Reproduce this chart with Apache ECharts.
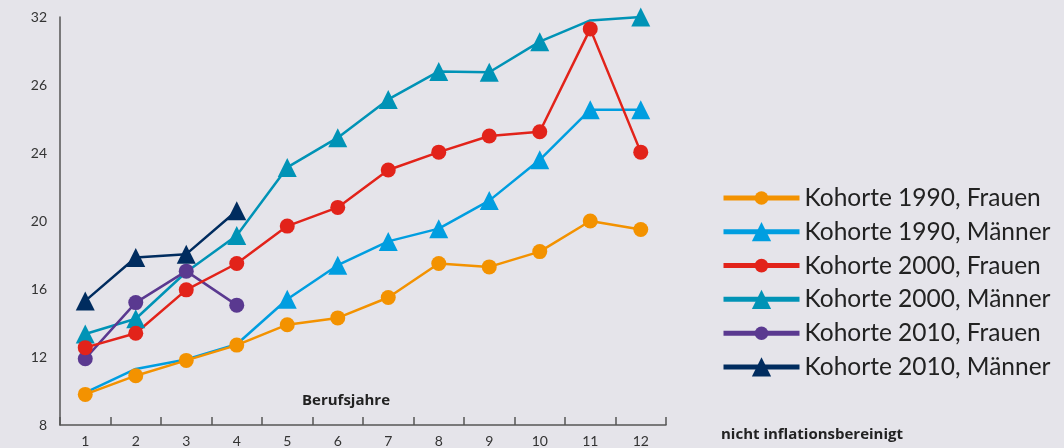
<!DOCTYPE html>
<html>
<head>
<meta charset="utf-8">
<script src="https://cdn.jsdelivr.net/npm/echarts@6/dist/echarts.min.js"></script>
<style>
html,body{margin:0;padding:0;background:#e5e4ea;}
#chart{width:1064px;height:448px;}
</style>
</head>
<body>
<div id="chart"></div>
<script>
const categories = ['1','2','3','4','5','6','7','8','9','10','11','12'];
const yTickLabels = ['8','12','16','20','24','26','32'];

const kohorte1990Frauen = [9.8, 10.9, 11.8, 12.7, 13.9, 14.3, 15.5, 17.5, 17.3, 18.2, 20.0, 19.5];
const kohorte1990Maenner = [9.9, 11.3, 11.85, 12.75, 15.4, 17.4, 18.8, 19.55, 21.2, 23.6, 26.55, 26.55];
const kohorte2000Frauen = [12.55, 13.4, 15.95, 17.5, 19.7, 20.8, 23.0, 24.05, 25.0, 25.25, 31.3, 24.05];
const kohorte2000Maenner = [13.35, 14.25, 17.0, 19.15, 23.15, 24.9, 27.15, 28.8, 28.75, 30.55, 31.8, 32.0];
const kohorte2010Frauen = [11.9, 15.2, 17.05, 15.05];
const kohorte2010Maenner = [15.3, 17.85, 18.05, 20.6];

const seriesNames = [
  'Kohorte 1990, Frauen',
  'Kohorte 1990, Männer',
  'Kohorte 2000, Frauen',
  'Kohorte 2000, Männer',
  'Kohorte 2010, Frauen',
  'Kohorte 2010, Männer'
];
// points drawn without a marker in the original
const noMarker1990Maenner = [0, 1, 2, 3];
const noMarker2000Maenner = [2, 10];

const chart = echarts.init(document.getElementById('chart'), null, {renderer: 'canvas'});

function withoutMarkers(data, idx) {
  return data.map((v, i) => idx.indexOf(i) >= 0 ? {value: v, symbol: 'none'} : v);
}

function mkSeries(name, data, color, symbol) {
  const isTri = symbol === 'triangle';
  return {
    name: name,
    type: 'line',
    data: data,
    color: color,
    symbol: symbol,
    symbolSize: isTri ? [19, 19] : 15,
    showAllSymbol: true,
    lineStyle: {width: 2.5, color: color},
    itemStyle: {color: color},
    emphasis: {disabled: true},
    animation: false
  };
}

const legendText = {fontFamily: 'Lato', fontSize: 24.5, color: '#222', lineHeight: 26};

const option = {
  backgroundColor: '#e5e4ea',
  animation: false,
  grid: {left: 60, right: 398, top: 17, bottom: 22, containLabel: false},
  xAxis: {
    type: 'category',
    data: categories,
    boundaryGap: true,
    axisLine: {show: true, lineStyle: {color: '#555', width: 1.5}},
    axisTick: {show: true, inside: true, length: 8, alignWithLabel: false, lineStyle: {color: '#555', width: 1.5}},
    axisLabel: {color: '#333', fontFamily: 'Lato', fontSize: 14, margin: 9},
    splitLine: {show: false}
  },
  yAxis: {
    type: 'value',
    min: 8,
    max: 32,
    interval: 4,
    axisLine: {show: true, lineStyle: {color: '#555', width: 1.5}},
    axisTick: {show: false},
    splitLine: {show: false},
    axisLabel: {
      color: '#333', fontFamily: 'Lato', fontSize: 14, margin: 13,
      formatter: function (v) { return yTickLabels[Math.round((v - 8) / 4)]; }
    }
  },
  legend: [
    {
      data: [seriesNames[0], seriesNames[2], seriesNames[4]],
      orient: 'vertical',
      left: 721, top: 185,
      padding: 0,
      itemWidth: 76, itemHeight: 17, itemGap: 41.6,
      lineStyle: {width: 5},
      textStyle: legendText,
      selectedMode: false
    },
    {
      data: [seriesNames[1], seriesNames[3], seriesNames[5]],
      orient: 'vertical',
      left: 721, top: 218.7,
      padding: 0,
      itemWidth: 76, itemHeight: 24, itemGap: 41.6,
      lineStyle: {width: 5},
      textStyle: legendText,
      selectedMode: false
    }
  ],
  graphic: [
    {type: 'text', left: 302, top: 393, style: {text: 'Berufsjahre', font: 'bold 15px "Open Sans"', fill: '#222'}},
    {type: 'text', left: 721, top: 427, style: {text: 'nicht inflationsbereinigt', font: 'bold 15px "Open Sans"', fill: '#222'}}
  ],
  series: [
    mkSeries(seriesNames[1], withoutMarkers(kohorte1990Maenner, noMarker1990Maenner), '#009ee0', 'triangle'),
    mkSeries(seriesNames[0], kohorte1990Frauen, '#f39200', 'circle'),
    mkSeries(seriesNames[3], withoutMarkers(kohorte2000Maenner, noMarker2000Maenner), '#0093b6', 'triangle'),
    mkSeries(seriesNames[4], kohorte2010Frauen, '#5a3990', 'circle'),
    mkSeries(seriesNames[2], kohorte2000Frauen, '#e2231a', 'circle'),
    mkSeries(seriesNames[5], kohorte2010Maenner, '#002c5f', 'triangle')
  ]
};
chart.setOption(option);
</script>
</body>
</html>
